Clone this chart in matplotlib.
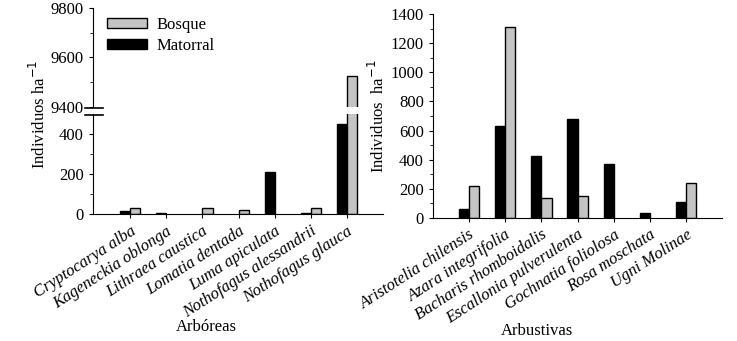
import numpy as np
import matplotlib
matplotlib.use('Agg')
import matplotlib.pyplot as plt

plt.rcParams['font.family'] = ['Liberation Serif', 'DejaVu Serif']

arboreas = ['Cryptocarya alba', 'Kageneckia oblonga', 'Lithraea caustica',
            'Lomatia dentada', 'Luma apiculata', 'Nothofagus alessandrii',
            'Nothofagus glauca']
arb_matorral = [18, 8, 0, 0, 212, 8, 448]
arb_bosque = [33, 0, 33, 20, 0, 33, 9525]

arbustivas = ['Aristotelia chilensis', 'Azara integrifolia', 'Bacharis rhomboidalis',
              'Escallonia pulverulenta', 'Gochnatia foliolosa', 'Rosa moschata',
              'Ugni Molinae']
arbu_matorral = [60, 630, 427, 682, 368, 32, 112]
arbu_bosque = [220, 1310, 137, 152, 0, 0, 238]

gray = '#c4c4c4'
w = 0.28
fs = 12
rot = 33


def nz(v):
    # zero values: no bar drawn
    v = np.array(v, dtype=float)
    v[v == 0] = np.nan
    return v


fig = plt.figure(figsize=(7.37, 3.41), dpi=100)
ax_up = fig.add_axes([0.126, 0.686, 0.394, 0.291])
ax_lo = fig.add_axes([0.126, 0.372, 0.394, 0.294])
ax_r = fig.add_axes([0.5875, 0.361, 0.3925, 0.598])

x = np.arange(len(arboreas))
for ax in (ax_up, ax_lo):
    ax.bar(x - w / 2, nz(arb_matorral), w, color='black', edgecolor='black', lw=1, label='Matorral')
    ax.bar(x + w / 2, nz(arb_bosque), w, color=gray, edgecolor='black', lw=1, label='Bosque')
    ax.set_xlim(-1.03, 7.0)
    ax.spines['top'].set_visible(False)
    ax.spines['right'].set_visible(False)
    ax.tick_params(labelsize=fs, direction='out', length=3)

ax_up.set_ylim(9400, 9800)
ax_up.set_yticks([9400, 9600, 9800])
ax_up.set_yticks([9500, 9700], minor=True)
ax_up.spines['bottom'].set_visible(False)
ax_up.tick_params(axis='x', bottom=False, labelbottom=False)
ax_up.tick_params(axis='y', which='minor', length=2)

ax_lo.set_ylim(0, 500)
ax_lo.set_yticks([0, 200, 400])
ax_lo.set_yticks([100, 300], minor=True)
ax_lo.tick_params(axis='y', which='minor', length=2)
ax_lo.set_xticks(x)
ax_lo.set_xticklabels(arboreas, rotation=rot, ha='right', rotation_mode='anchor',
                      style='italic', fontsize=fs)

# break marks on the left spine
for yy in (0.684, 0.663):
    fig.add_artist(plt.Line2D([0.115, 0.140], [yy, yy], color='black', lw=1.2))

fig.text(0.053, 0.665, 'Individuos ha$^{-1}$', rotation=90, ha='center', va='center', fontsize=fs)
fig.text(206 / 737, 1 - 327 / 341, 'Arbóreas', ha='center', va='center', fontsize=fs)
fig.text(537 / 737, 1 - 331 / 341, 'Arbustivas', ha='center', va='center', fontsize=fs)

h, l = ax_up.get_legend_handles_labels()
ax_up.legend(h[::-1], l[::-1], loc='upper left', bbox_to_anchor=(0.025, 0.975), frameon=False,
             fontsize=fs, handlelength=2.4, handleheight=0.5, handletextpad=0.6,
             borderaxespad=0, labelspacing=0.3)

xr = np.arange(len(arbustivas))
ax_r.bar(xr - w / 2, nz(arbu_matorral), w, color='black', edgecolor='black', lw=1)
ax_r.bar(xr + w / 2, nz(arbu_bosque), w, color=gray, edgecolor='black', lw=1)
ax_r.set_xlim(-1.0, 7.0)
ax_r.set_ylim(0, 1400)
ax_r.set_yticks(np.arange(0, 1401, 200))
ax_r.set_yticks(np.arange(100, 1400, 200), minor=True)
ax_r.spines['top'].set_visible(False)
ax_r.spines['right'].set_visible(False)
ax_r.tick_params(labelsize=fs, direction='out', length=3)
ax_r.tick_params(axis='y', which='minor', length=2)
ax_r.set_xticks(xr)
ax_r.set_xticklabels(arbustivas, rotation=rot, ha='right', rotation_mode='anchor',
                     style='italic', fontsize=fs)
ax_r.set_ylabel('Individuos  ha$^{-1}$', fontsize=fs, labelpad=2)

fig.savefig('out.png', dpi=100)
